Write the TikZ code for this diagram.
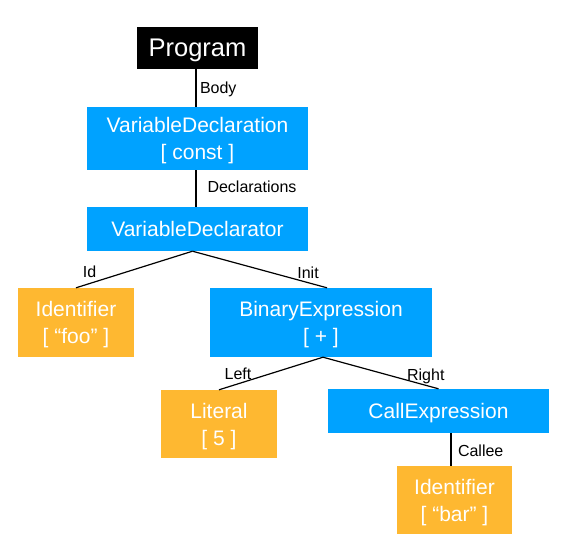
\documentclass[tikz,border=0pt]{standalone}
\usepackage{fontspec}
\setmainfont{Liberation Sans}
\definecolor{astblue}{HTML}{00A2FF}
\definecolor{astorange}{HTML}{FEB831}

\begin{document}
\begin{tikzpicture}[x=1pt, y=-1pt,
    inner/.style={fill=astblue, text=white, inner sep=0pt, text depth=0pt, align=center, font=\fontsize{21}{27}\selectfont},
    leaf/.style={inner, fill=astorange},
    lbl/.style={inner sep=1pt, text height=12pt, text depth=0.5pt, font=\fontsize{16}{19}\selectfont},
    trunk/.style={line width=2pt},
    branch/.style={line width=1.2pt} ]
      \useasboundingbox (0,0) rectangle (571,557);
      \node[inner, fill=black, minimum width=121pt, minimum height=42pt, font=\fontsize{25.5}{30}\selectfont] (prog) at (197.5,48) {Program};
      \node[inner, minimum width=221pt, minimum height=63pt] (vdecl) at (197.5,138.5) {VariableDeclaration\\ {[} const ]};
      \node[inner, minimum width=221pt, minimum height=44pt] (vdtor) at (197.5,229) {VariableDeclarator};
      \node[leaf, minimum width=116pt, minimum height=69pt] (idfoo) at (76,322.5) {Identifier\\ {[} “foo” ]};
      \node[inner, minimum width=222pt, minimum height=69pt] (binexp) at (321,322.5) {BinaryExpression\\ {[} + ]};
      \node[leaf, minimum width=116pt, minimum height=68pt] (lit) at (219,424) {Literal\\ {[} 5 ]};
      \node[inner, minimum width=221pt, minimum height=44pt] (call) at (438.5,411) {CallExpression};
      \node[leaf, minimum width=115pt, minimum height=68pt] (idbar) at (454.5,500) {Identifier\\ {[} “bar” ]};
\draw[trunk] ([xshift=-1.5pt]prog.south) -- node[lbl, right=2pt] {Body} ([xshift=-1.5pt]vdecl.north);
\draw[trunk] ([xshift=-1.5pt]vdecl.south) -- node[lbl, right=9.5pt, yshift=2pt] {Declarations} ([xshift=-1.5pt]vdtor.north);
\draw[branch] ([xshift=-5pt]vdtor.south) -- node[lbl, pos=0.884, above=3.5pt] {Id} (idfoo.north);
\draw[branch] ([xshift=-5pt]vdtor.south) -- node[lbl, pos=0.859, above=2.5pt] {Init} ([xshift=6pt]binexp.north);
\draw[branch] ([xshift=2pt]binexp.south) -- node[lbl, pos=0.817, above=2pt] {Left} (lit.north);
\draw[branch] ([xshift=2pt]binexp.south) -- node[lbl, pos=0.89, above=3pt] {Right} (call.north);
\draw[trunk] ([xshift=-3.5pt]idbar.north |- call.south) -- node[lbl, right=5pt, yshift=-1.5pt] {Callee} ([xshift=-3.5pt]idbar.north);
\end{tikzpicture}
\end{document}
